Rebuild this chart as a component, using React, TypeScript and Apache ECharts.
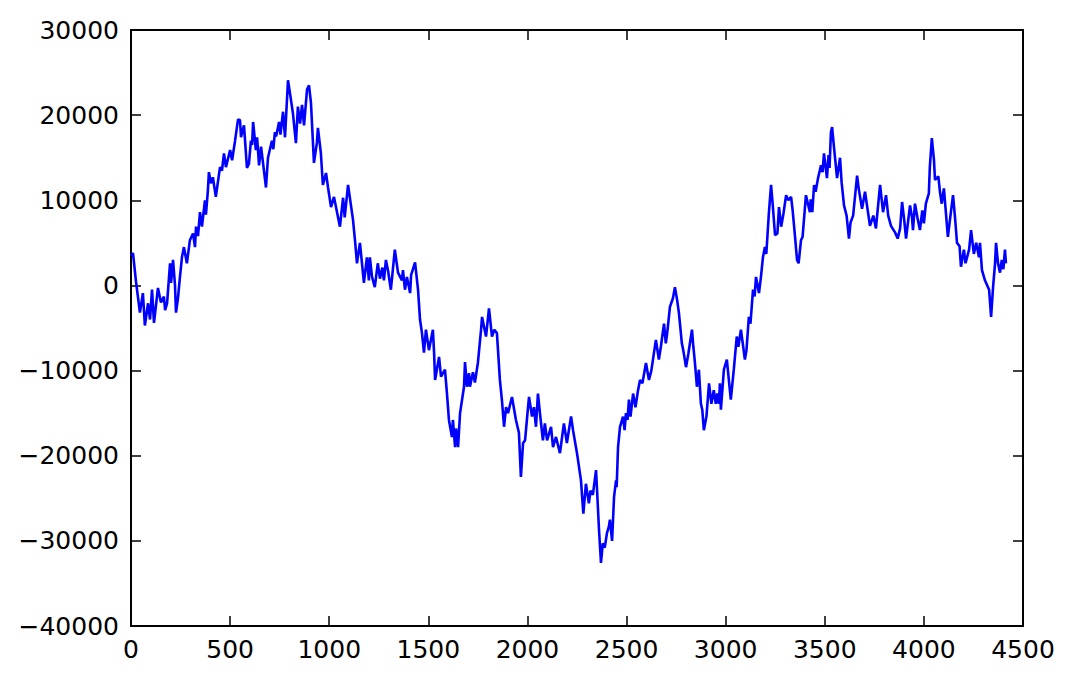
import React, { useEffect, useRef } from "react";
import * as echarts from "echarts";

const xTicks = [0, 500, 1000, 1500, 2000, 2500, 3000, 3500, 4000, 4500];
const yTicks = [-40000, -30000, -20000, -10000, 0, 10000, 20000, 30000];

const stepX: number[] = [
  0, 10, 25, 45, 60, 70, 86, 96, 106, 116, 136, 151, 166, 172, 182, 197, 202, 212, 222, 227,
  237, 247, 257, 267, 282, 297, 313, 323, 328, 338, 348, 358, 373, 378, 388, 393, 403, 413, 428, 449,
  459, 469, 479, 500, 510, 525, 540, 550, 555, 570, 585, 595, 605, 611, 616, 630, 636, 646, 656, 666,
  681, 691, 711, 718, 726, 732, 747, 754, 767, 777, 792, 807, 817, 832, 842, 853, 863, 873, 888, 898,
  908, 923, 938, 943, 958, 968, 984, 994, 1009, 1024, 1054, 1070, 1078, 1095, 1120, 1130, 1140, 1155, 1175, 1190,
  1200, 1205, 1216, 1230, 1245, 1256, 1268, 1276, 1286, 1297, 1311, 1331, 1347, 1367, 1372, 1382, 1392, 1408, 1413, 1433,
  1448, 1458, 1468, 1478, 1488, 1503, 1523, 1529, 1534, 1554, 1564, 1584, 1594, 1604, 1619, 1624, 1635, 1640, 1650, 1660,
  1680, 1685, 1695, 1705, 1710, 1725, 1735, 1750, 1766, 1771, 1791, 1806, 1821, 1833, 1846, 1861, 1871, 1882, 1892, 1902,
  1922, 1942, 1957, 1967, 1978, 1988, 2003, 2008, 2023, 2033, 2043, 2053, 2063, 2078, 2088, 2099, 2119, 2129, 2144, 2164,
  2184, 2199, 2220, 2230, 2250, 2265, 2270, 2282, 2295, 2310, 2318, 2330, 2346, 2350, 2361, 2371, 2380, 2390, 2401, 2411,
  2416, 2427, 2437, 2447, 2450, 2457, 2467, 2482, 2490, 2497, 2505, 2512, 2520, 2533, 2545, 2558, 2568, 2580, 2598, 2613,
  2625, 2648, 2663, 2673, 2689, 2698, 2705, 2719, 2734, 2744, 2755, 2764, 2779, 2786, 2800, 2812, 2830, 2837, 2845, 2855,
  2865, 2875, 2882, 2890, 2903, 2916, 2928, 2940, 2950, 2958, 2966, 2971, 2976, 2991, 3006, 3016, 3026, 3041, 3056, 3064,
  3077, 3097, 3105, 3117, 3125, 3138, 3146, 3153, 3168, 3178, 3188, 3198, 3205, 3218, 3229, 3237, 3249, 3261, 3269, 3280,
  3292, 3305, 3316, 3330, 3338, 3350, 3360, 3368, 3380, 3388, 3405, 3425, 3429, 3437, 3446, 3454, 3466, 3481, 3489, 3496,
  3511, 3519, 3524, 3531, 3537, 3547, 3562, 3577, 3585, 3597, 3610, 3622, 3630, 3643, 3663, 3671, 3688, 3703, 3728, 3745,
  3758, 3779, 3794, 3809, 3820, 3834, 3855, 3868, 3880, 3890, 3902, 3910, 3930, 3940, 3945, 3955, 3967, 3980, 3992, 4000,
  4010, 4025, 4030, 4040, 4051, 4056, 4073, 4081, 4090, 4101, 4121, 4133, 4147, 4157, 4167, 4180, 4187, 4202, 4210, 4228,
  4238, 4252, 4264, 4278, 4283, 4293, 4308, 4329, 4339, 4349, 4359, 4364, 4374, 4384, 4393, 4401, 4409, 4414,
];

const walkY: number[] = [
  3500, 3800, 500, -3200, -900, -4700, -2100, -4000, -500, -4400, -300, -2000, -1300, -2900, -2100, 2600, 300, 3000, 0, -3200,
  -1500, 1000, 3300, 4500, 2600, 5300, 6100, 4500, 6900, 5800, 8600, 6900, 10000, 8300, 11200, 13300, 12000, 12700, 10400, 13900,
  13500, 15500, 13900, 15900, 14700, 17000, 19500, 19400, 17400, 18800, 13800, 14300, 17000, 16500, 19200, 15900, 17400, 14100, 16300, 14400,
  11500, 15000, 17000, 16000, 18000, 17500, 19200, 17700, 20400, 17400, 24100, 21800, 20200, 16700, 21000, 19000, 21200, 18800, 23000, 23500,
  21400, 14400, 16800, 18500, 15500, 11800, 13200, 11500, 9200, 10400, 6900, 10300, 8000, 11800, 7700, 5300, 2600, 5000, 300, 3300,
  600, 3300, 1000, -200, 2600, 800, 2100, 600, 3000, 1700, -500, 4200, 1500, 600, 1800, -500, 1000, -900, 1200, 2700,
  -500, -4000, -5600, -7900, -5200, -7600, -5200, -7900, -11100, -8400, -10700, -9900, -12700, -15800, -17800, -15800, -19000, -16800, -19000, -15000,
  -11900, -9000, -11900, -10300, -11900, -10200, -11400, -9100, -5200, -3700, -6000, -2700, -6000, -5200, -5600, -11100, -13400, -16600, -14300, -15000,
  -13100, -15800, -17300, -22500, -18500, -18200, -14300, -13100, -15400, -14300, -16600, -12700, -15000, -18200, -16200, -18200, -16600, -19000, -17800, -19700,
  -16200, -18500, -15400, -17000, -19700, -22100, -22900, -26800, -23300, -25600, -24100, -24600, -21700, -23500, -28700, -32600, -30300, -30800, -29100, -28300,
  -27500, -30000, -24800, -22900, -23700, -19000, -16600, -15400, -17000, -15000, -15800, -13400, -15400, -12700, -14300, -12300, -11100, -11500, -9100, -11100,
  -10000, -6400, -8700, -7200, -4500, -6800, -5600, -2500, -1500, -200, -1700, -3200, -6800, -7600, -9600, -8000, -5200, -7200, -9100, -11900,
  -9900, -13900, -14600, -17000, -15400, -11500, -13900, -12300, -13900, -12700, -13900, -11500, -14600, -9900, -8700, -11100, -13400, -9900, -6000, -7200,
  -5200, -8700, -7600, -3700, -4500, -500, -1300, 1000, -900, 1000, 3300, 4500, 3700, 8500, 11800, 9600, 5900, 6100, 9200, 6900,
  8500, 10600, 10000, 10400, 8800, 5700, 3000, 2600, 5300, 5700, 10600, 8600, 10100, 8600, 11800, 11000, 12600, 14100, 13300, 15500,
  12600, 15300, 13800, 18000, 18600, 16100, 12600, 15000, 12100, 9400, 8200, 5500, 7400, 8200, 12900, 11400, 9000, 11000, 7000, 8200,
  6700, 11800, 8600, 10600, 8200, 7000, 6200, 5500, 6700, 9800, 7400, 5500, 9400, 8000, 6500, 9600, 8000, 6500, 8800, 7300,
  9600, 10800, 13900, 17300, 14700, 12400, 12800, 11000, 9600, 11400, 5700, 8000, 10600, 8000, 5000, 4600, 2200, 4200, 2600, 4200,
  6500, 3700, 5000, 3300, 5000, 1800, 600, -500, -3700, -200, 2600, 5000, 2600, 1500, 3000, 1900, 4200, 2600,
];

const FONT = "'DejaVu Sans', sans-serif";

export default function App() {
  const ref = useRef<HTMLDivElement>(null);
  useEffect(() => {
    document.body.style.margin = "0";
    if (!ref.current) return;
    const chart = echarts.init(ref.current, null, { renderer: "svg" });
    const data = stepX.map((x, i) => [x, walkY[i]]);
    const axisLineStyle = { color: "#000", width: 2 };
    const tickStyle = { show: true, inside: true, length: 10, lineStyle: { color: "#000", width: 1.5 } };
    const labelStyle = { color: "#000", fontSize: 25, fontFamily: FONT };
    const fmt = (v: number) => (v < 0 ? "\u2212" + Math.abs(v) : String(v));
    chart.setOption({
      animation: false,
      backgroundColor: "#fff",
      grid: { left: 131, right: 55, top: 30, bottom: 60, containLabel: false },
      xAxis: [
        {
          type: "value",
          position: "bottom",
          min: xTicks[0],
          max: xTicks[xTicks.length - 1],
          interval: 500,
          axisLine: { show: true, onZero: false, lineStyle: axisLineStyle },
          axisTick: tickStyle,
          axisLabel: { ...labelStyle, margin: 11, formatter: fmt },
          splitLine: { show: false },
        },
        {
          type: "value",
          position: "top",
          min: xTicks[0],
          max: xTicks[xTicks.length - 1],
          interval: 500,
          axisLine: { show: true, onZero: false, lineStyle: axisLineStyle },
          axisTick: tickStyle,
          axisLabel: { show: false },
          splitLine: { show: false },
        },
      ],
      yAxis: [
        {
          type: "value",
          position: "left",
          min: yTicks[0],
          max: yTicks[yTicks.length - 1],
          interval: 10000,
          axisLine: { show: true, onZero: false, lineStyle: axisLineStyle },
          axisTick: tickStyle,
          axisLabel: { ...labelStyle, margin: 12, formatter: fmt },
          splitLine: { show: false },
        },
        {
          type: "value",
          position: "right",
          min: yTicks[0],
          max: yTicks[yTicks.length - 1],
          interval: 10000,
          axisLine: { show: true, onZero: false, lineStyle: axisLineStyle },
          axisTick: tickStyle,
          axisLabel: { show: false },
          splitLine: { show: false },
        },
      ],
      series: [
        {
          type: "line",
          xAxisIndex: 0,
          yAxisIndex: 0,
          data,
          showSymbol: false,
          symbol: "none",
          lineStyle: { color: "#0000ff", width: 2.6 },
          z: 1,
        },
      ],
    });
    return () => chart.dispose();
  }, []);
  return <div ref={ref} style={{ width: 1078, height: 686 }} />;
}
